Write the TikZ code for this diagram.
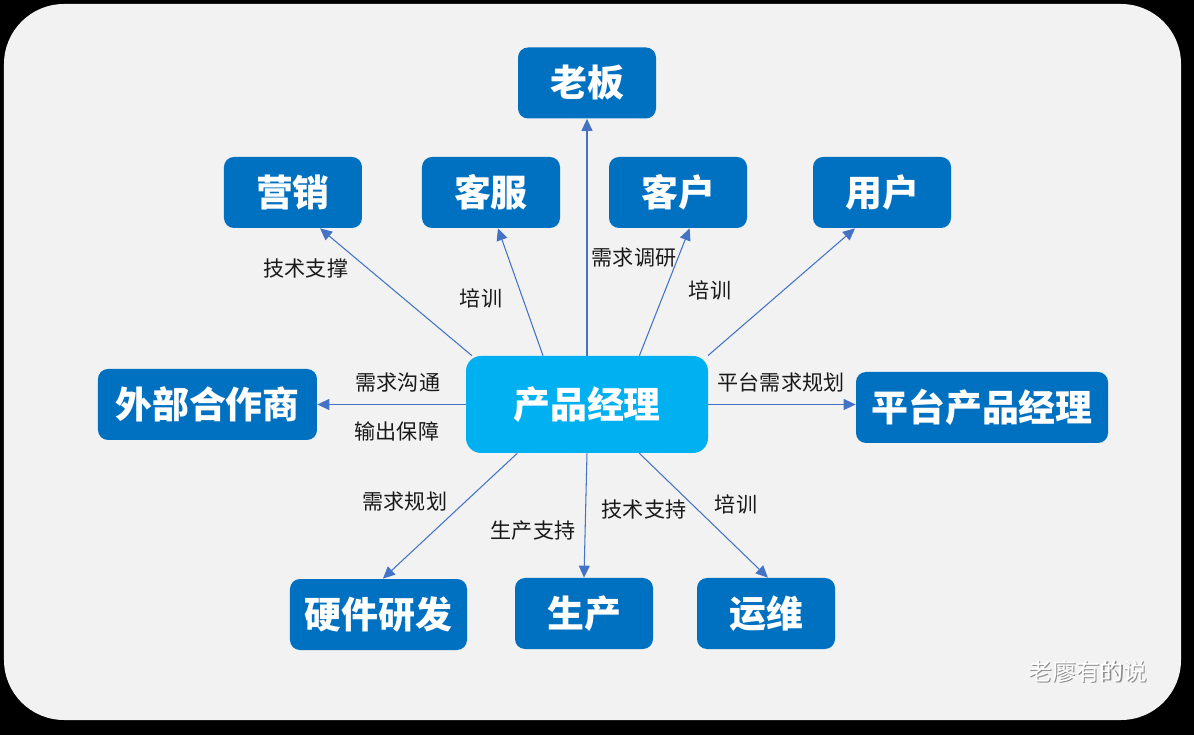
\documentclass[tikz,border=0pt]{standalone}
\usepackage{fontspec}
\newfontfamily\cjk{Noto Sans CJK SC}
\usetikzlibrary{positioning,arrows.meta}
\definecolor{boxblue}{HTML}{0070C0}
\definecolor{pmblue}{HTML}{00B0F0}
\definecolor{lineblue}{HTML}{4472C4}
\definecolor{panel}{HTML}{F2F2F2}

\begin{document}
\begin{tikzpicture}[
	role/.style={fill=boxblue, rounded corners=0.2cm, text=white, inner sep=0pt,
		font=\cjk\bfseries\fontsize{21}{25}\selectfont, minimum width=2.76cm, minimum height=1.42cm},
	link/.style={draw=lineblue, line width=0.6pt, -{Triangle[length=0.24cm,width=0.22cm]}},
	tag/.style={font=\cjk\fontsize{12}{14}\selectfont, text=black!90, inner sep=1pt}
]
			% background
			\fill[black] (-11.74,-6.61) rectangle (12.14,8.09);
			\fill[panel, rounded corners=1.2cm] (-11.66,-6.31) rectangle (11.88,8.01);

			\node(pm) [role, fill=pmblue, minimum width=4.84cm, minimum height=1.94cm, rounded corners=0.3cm] {产品经理};
			\node(lb)	[role, above of=pm, node distance=6.43cm] {老板};
			\node(yx)	[role, above of=pm, node distance=4.24cm, xshift=-5.88cm] {营销};
			\node(kf)	[role, above of=pm, node distance=4.24cm, xshift=-1.92cm] {客服};
			\node(kh)	[role, above of=pm, node distance=4.24cm, xshift=1.82cm] {客户};
			\node(yh)	[role, above of=pm, node distance=4.24cm, xshift=5.9cm] {用户};
			\node(wb)	[role, left of=pm, node distance=7.59cm, minimum width=4.38cm] {外部合作商};
			\node(pt)	[role, right of=pm, node distance=7.9cm, yshift=-0.06cm, minimum width=5.04cm] {平台产品经理};
			\node(yj)	[role, below of=pm, node distance=4.2cm, xshift=-4.17cm, minimum width=3.54cm] {硬件研发};
			\node(sc)	[role, below of=pm, node distance=4.18cm, xshift=-0.06cm] {生产};
			\node(yw)	[role, below of=pm, node distance=4.18cm, xshift=3.58cm] {运维};

			\draw[link] (pm.157) -- (yx.-53);
			\draw[link] (pm.132) -- (kf.-79);
			\draw[link] (pm.north) -- (lb.south);
			\draw[link] (pm.43) -- (kh.-72);
			\draw[link] (pm.22) -- (yh.-127);
			\draw[link] (pm.west) -- (wb.east);
			\draw[link] (pm.east) -- (pm.east -| pt.west);
			\draw[link] (pm.-145) -- (yj.83);
			\draw[link] (pm.south) -- (sc.north);
			\draw[link] (pm.-43) -- (yw.87);

			\node(t1)	[tag] at (-5.62,2.71) {技术支撑};
			\node(t2)	[tag] at (-2.12,2.13) {培训};
			\node(t3)	[tag] at (0.94,2.93) {需求调研};
			\node(t4)	[tag] at (2.46,2.29) {培训};
			\node(t5)	[tag] at (-3.78,0.43) {需求沟通};
			\node(t6)	[tag] at (-3.8,-0.53) {输出保障};
			\node(t7)	[tag] at (3.88,0.45) {平台需求规划};
			\node(t8)	[tag] at (-3.64,-1.95) {需求规划};
			\node(t9)	[tag] at (-1.08,-2.53) {生产支持};
			\node(t10)	[tag] at (1.14,-2.09) {技术支持};
			\node(t11)	[tag] at (2.98,-1.99) {培训};

			% watermark
			\node(wms)	[tag, text=black!45, font=\cjk\fontsize{13.5}{16}\selectfont] at (10.045,-5.355) {老廖有的说};
			\node(wm)	[tag, text=white, font=\cjk\fontsize{13.5}{16}\selectfont] at (10.02,-5.33) {老廖有的说};
		\end{tikzpicture}
\end{document}
